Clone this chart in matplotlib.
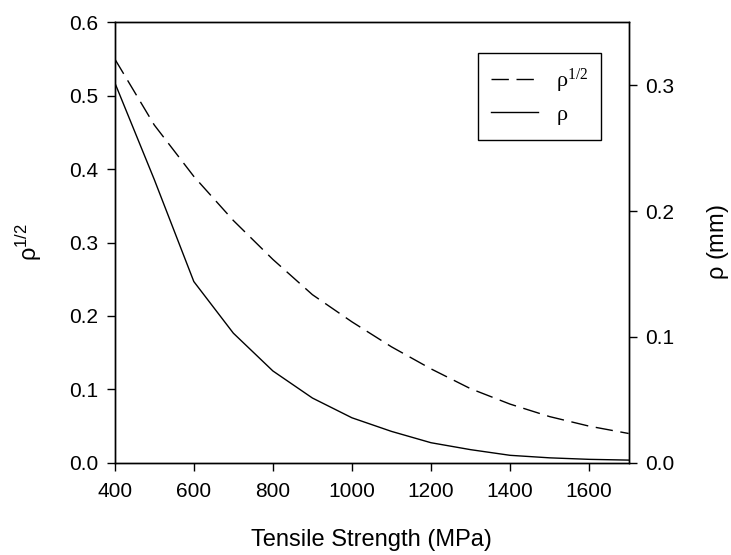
import matplotlib.pyplot as plt
import numpy as np

plt.rcParams['font.family'] = ['Liberation Sans', 'DejaVu Sans']

strength = np.array([400, 500, 600, 700, 800, 900, 1000, 1100, 1200, 1300, 1400, 1500, 1600, 1700])
rho_sqrt = np.array([0.55, 0.46, 0.39, 0.33, 0.277, 0.229, 0.192, 0.158, 0.128, 0.101, 0.08, 0.063, 0.05, 0.04])
rho = np.array([0.302, 0.225, 0.144, 0.103, 0.073, 0.0515, 0.0358, 0.025, 0.016, 0.0105, 0.006, 0.004, 0.0028, 0.0022])

fig = plt.figure(figsize=(7.31, 5.55), dpi=100)
ax = fig.add_axes([0.157, 0.166, 0.703, 0.794])
ax2 = ax.twinx()

l1, = ax.plot(strength, rho_sqrt, color='black', lw=1.0, dashes=(12.5, 5.5))
l2, = ax2.plot(strength, rho, color='black', lw=1.0)

ax.set_xlim(400, 1700)
ax.set_ylim(0, 0.6)
ax2.set_ylim(0, 0.35)
ax.set_xticks([400, 600, 800, 1000, 1200, 1400, 1600])
ax.set_yticks(np.arange(0, 0.61, 0.1))
ax.set_yticklabels(['%.1f' % v for v in np.arange(0, 0.61, 0.1)])
ax2.set_yticks([0, 0.1, 0.2, 0.3])
ax2.set_yticklabels(['0.0', '0.1', '0.2', '0.3'])

for a in (ax, ax2):
    a.tick_params(direction='out', length=6, width=1, labelsize=15, pad=6)
    for s in a.spines.values():
        s.set_linewidth(1.0)
ax.tick_params(axis='x', pad=8)

ax.set_xlabel('Tensile Strength (MPa)', fontsize=17, labelpad=20)
ax.set_ylabel(r'$\mathregular{\rho^{1/2}}$', fontsize=17, labelpad=18)
ax2.set_ylabel(r'$\mathregular{\rho}$ (mm)', fontsize=17, labelpad=22)

leg = ax2.legend([l1, l2], [r'$\mathregular{\rho^{1/2}}$', r'$\mathregular{\rho}$'],
                 loc='upper right', bbox_to_anchor=(0.947, 0.93), borderaxespad=0,
                 prop={'family': 'Liberation Serif', 'size': 16},
                 fancybox=False, edgecolor='black', framealpha=1,
                 handlelength=2.1, handletextpad=0.8, labelspacing=0.45,
                 borderpad=0.6)
leg.get_frame().set_linewidth(1.0)

fig.savefig('out.png', dpi=100)
